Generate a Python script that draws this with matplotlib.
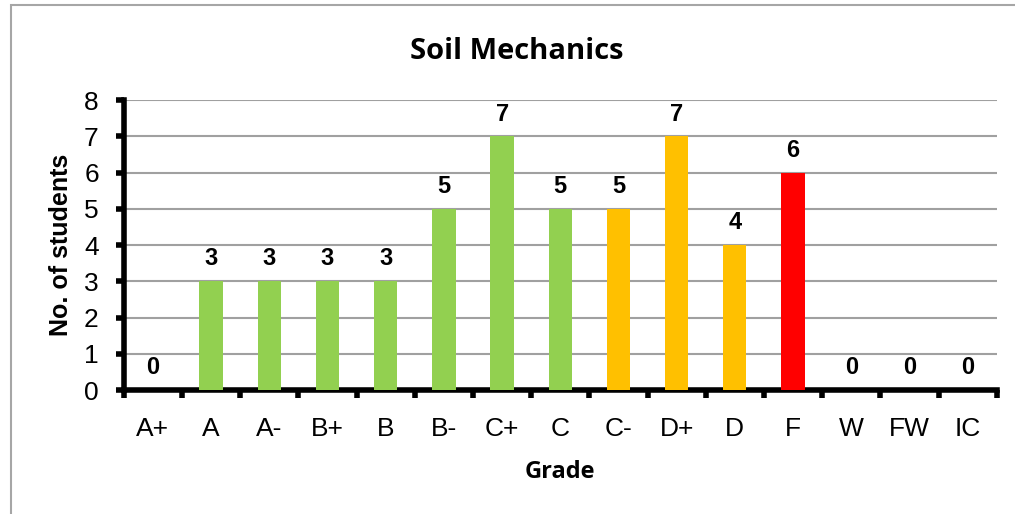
import matplotlib
matplotlib.use("Agg")
import matplotlib.pyplot as plt
from matplotlib.patches import Rectangle

grades = ["A+", "A", "A-", "B+", "B", "B-", "C+", "C", "C-", "D+", "D", "F", "W", "FW", "IC"]
students = [0, 3, 3, 3, 3, 5, 7, 5, 5, 7, 4, 6, 0, 0, 0]
bar_colors = ["#92D050"] * 8 + ["#FFC000"] * 3 + ["#FF0000"] + ["#92D050"] * 3

fig = plt.figure(figsize=(10.15, 5.14), dpi=100)
# grey frame round the chart area
fig.patches.append(Rectangle((11 / 1015, -0.1), 1.2, 1 - 5 / 514 + 0.1,
                             transform=fig.transFigure, fill=False,
                             edgecolor="#A6A6A6", linewidth=1.5))
ax = fig.add_axes([0.122, 0.241, 0.860, 0.564])

x = list(range(len(grades)))
bars = ax.bar(x, students, width=0.4, color=bar_colors, zorder=3)

for xi, v in zip(x, students):
    ax.text(xi, v + 0.62, str(v), ha="center", va="center",
            fontsize=17, fontweight="bold", family="Liberation Sans")

ax.set_xlim(-0.5, len(grades) - 0.5)
ax.set_ylim(0, 8)
ax.set_yticks(range(0, 9))
ax.yaxis.grid(True, color="#A0A0A0", linewidth=1.5, zorder=0)
ax.set_axisbelow(True)

ax.set_xticks([i - 0.5 for i in range(len(grades) + 1)])
ax.set_xticklabels([])
ax.set_xticks(x, minor=True)
ax.set_xticklabels(grades, minor=True, fontsize=19, family="Liberation Sans")
ax.tick_params(axis="x", which="minor", length=0, pad=19)
ax.tick_params(axis="x", which="major", direction="out", length=6, width=4)
ax.tick_params(axis="y", direction="out", length=6, width=4, pad=12,
               labelsize=19)
for lab in ax.get_yticklabels():
    lab.set_family("Liberation Sans")

for side in ["top", "right"]:
    ax.spines[side].set_visible(False)
ax.spines["left"].set_linewidth(4)
ax.spines["bottom"].set_linewidth(4)

# title sits over the middle of the frame, not the plot area
ax.set_title("Soil Mechanics", fontsize=21, fontweight="bold",
             family="Open Sans", pad=30, x=0.45)
ax.set_ylabel("No. of students", fontsize=18, fontweight="bold",
              family="Liberation Sans", labelpad=8)
ax.set_xlabel("Grade", fontsize=17, fontweight="bold", family="Open Sans",
              labelpad=14)

fig.savefig("out.png", dpi=100)
